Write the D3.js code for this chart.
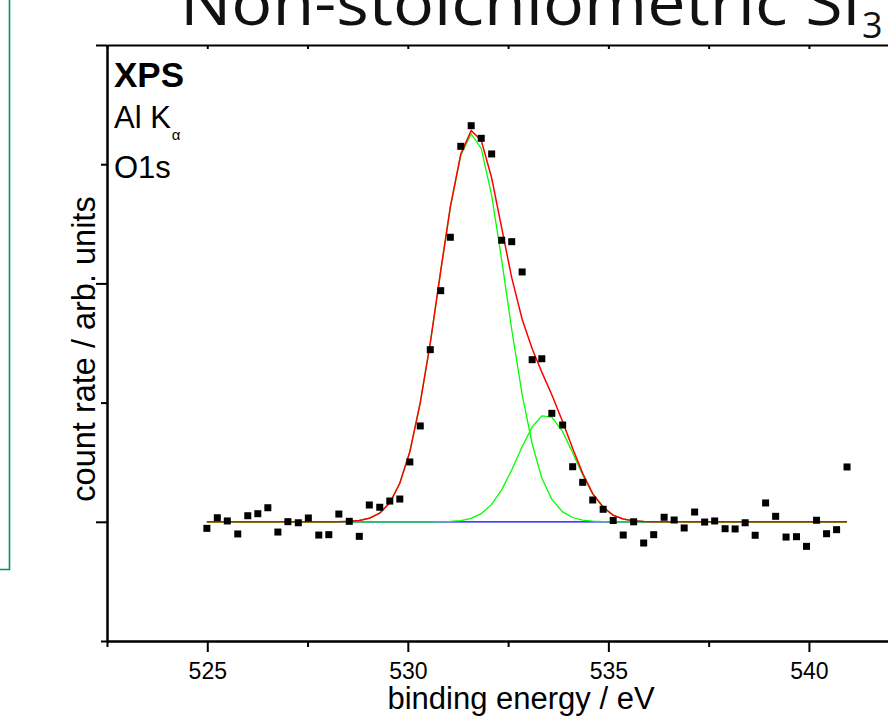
<!DOCTYPE html>
<html><head><meta charset="utf-8">
<script src="https://cdn.jsdelivr.net/npm/d3@7"></script>
<style>body{margin:0;background:#fff;overflow:hidden} svg{display:block}</style>
</head><body>
<svg id="c" width="888" height="716"></svg>
<script>
// ---- data ----
const energies = [524.99,525.25,525.50,525.76,526.01,526.26,526.51,526.76,527.01,527.27,527.52,527.78,528.03,528.28,528.54,528.79,529.04,529.30,529.55,529.80,530.05,530.31,530.56,530.82,531.06,531.32,531.58,531.83,532.09,532.34,532.59,532.85,533.10,533.34,533.59,533.86,534.11,534.36,534.61,534.87,535.12,535.37,535.63,535.88,536.13,536.39,536.64,536.89,537.15,537.40,537.65,537.91,538.16,538.41,538.66,538.92,539.17,539.43,539.69,539.94,540.19,540.44,540.69,540.95];
const counts = [-0.055,0.034,0.007,-0.102,0.051,0.068,0.118,-0.086,0.001,-0.008,0.032,-0.111,-0.108,0.065,0.004,-0.122,0.141,0.122,0.174,0.191,0.502,0.804,1.444,1.939,2.387,3.150,3.323,3.217,3.086,2.362,2.350,2.096,1.360,1.368,0.910,0.812,0.462,0.331,0.183,0.105,0.011,-0.111,0.000,-0.178,-0.108,0.038,0.015,-0.052,0.082,-0.002,0.007,-0.058,-0.060,-0.008,-0.113,0.158,0.046,-0.128,-0.125,-0.206,0.013,-0.100,-0.066,0.460];
const peak1 = [0,0,0,0,0,0,0,0,0,0,0,0,0.000,0.001,0.004,0.011,0.030,0.073,0.159,0.323,0.587,0.999,1.500,2.104,2.639,3.075,3.254,3.132,2.738,2.197,1.613,1.069,0.655,0.367,0.188,0.083,0.036,0.014,0.005,0.002,0,0,0,0,0,0,0,0,0,0,0,0,0,0,0,0,0,0,0,0,0,0,0,0];
const peak2 = [0,0,0,0,0,0,0,0,0,0,0,0,0,0,0,0,0,0,0,0,0,0,0.000,0.001,0.003,0.010,0.028,0.068,0.146,0.268,0.435,0.630,0.796,0.889,0.878,0.756,0.579,0.392,0.231,0.122,0.055,0.023,0.008,0.003,0.001,0,0,0,0,0,0,0,0,0,0,0,0,0,0,0,0,0,0,0];
const baselineLevel = 0;
const xMajorTicks = [525,530,535,540];
const xMinorTicks = [522.5,527.5,532.5,537.5,542.5];
const xTopTicks = [522.5,525,527.5,530,532.5,535,537.5,540,542.5];
const yMajorTicks = [0,2,4];
const yMinorTicks = [-1,1,3];
const xDomain = [522.5,543];
const yDomain = [-1,4];
const labels = {title:"Non-stoichiometric Si", titleSub:"3", xTitle:"binding energy / eV", yTitle:"count rate / arb. units",
  line1:"XPS", line2:"Al K", line2Sub:"\u03B1", line3:"O1s"};

// ---- drawing ----
const svg = d3.select("#c");
const L = 107, T = 45, B = 641;
const x = d3.scaleLinear().domain(xDomain).range([L, L + (xDomain[1]-xDomain[0])*40.11]);
const y = d3.scaleLinear().domain(yDomain).range([B, T]);
const R = x.range()[1];
const FONT = "'Liberation Sans', Arial, sans-serif";

// green slide frame on the left
svg.append("path").attr("d","M9.5,0 V569.5 H0").attr("fill","none")
  .attr("stroke","#00935a").attr("stroke-width",1.6);

// title (partly cut off by the top edge, as in the reference)
svg.append("text").attr("x",180).attr("y",25)
  .attr("font-family","'Open Sans', 'DejaVu Sans', sans-serif").attr("font-size",62)
  .attr("fill","#111").attr("textLength",680).attr("lengthAdjust","spacingAndGlyphs")
  .text(labels.title);
svg.append("text").attr("x",862).attr("y",38)
  .attr("font-family","'Open Sans', 'DejaVu Sans', sans-serif").attr("font-size",36)
  .attr("fill","#111").text(labels.titleSub);

// axes
function styleAxis(g){
  g.selectAll("path.domain").attr("stroke","#000").attr("stroke-width",2);
  g.selectAll(".tick line").attr("stroke","#000").attr("stroke-width",2);
  g.selectAll("text").attr("font-family",FONT).attr("font-size",23).attr("fill","#000");
}
svg.append("g").attr("transform",`translate(0,${B})`)
  .call(d3.axisBottom(x).tickValues(xMinorTicks).tickSize(6).tickSizeOuter(0).tickFormat(""))
  .call(styleAxis);
svg.append("g").attr("transform",`translate(0,${B})`)
  .call(d3.axisBottom(x).tickValues(xMajorTicks).tickSize(11).tickSizeOuter(0).tickPadding(11).tickFormat(d3.format("d")))
  .call(styleAxis);
svg.append("g").attr("transform",`translate(0,${T})`)
  .call(d3.axisTop(x).tickValues(xTopTicks).tickSize(-4).tickSizeOuter(0).tickFormat(""))
  .call(styleAxis);
svg.append("g").attr("transform",`translate(${L},0)`)
  .call(d3.axisLeft(y).tickValues(yMinorTicks).tickSize(6).tickSizeOuter(0).tickFormat(""))
  .call(styleAxis);
svg.append("g").attr("transform",`translate(${L},0)`)
  .call(d3.axisLeft(y).tickValues(yMajorTicks).tickSize(11).tickSizeOuter(0).tickFormat(""))
  .call(styleAxis);
svg.append("g").attr("transform",`translate(${R},0)`)
  .call(d3.axisRight(y).tickValues(yMajorTicks.concat(yMinorTicks)).tickSize(-4).tickSizeOuter(0).tickFormat(""))
  .call(styleAxis);

// axis titles
svg.append("text").attr("x",521).attr("y",709).attr("text-anchor","middle")
  .attr("font-family",FONT).attr("font-size",31).text(labels.xTitle);
svg.append("text").attr("transform","translate(95,349) rotate(-90)").attr("text-anchor","middle")
  .attr("font-family",FONT).attr("font-size",32.5).text(labels.yTitle);

// annotation
svg.append("text").attr("x",114).attr("y",87).attr("font-family",FONT).attr("font-size",35)
  .attr("font-weight","bold").text(labels.line1);
const t2 = svg.append("text").attr("x",114).attr("y",128).attr("font-family",FONT).attr("font-size",31);
t2.append("tspan").text(labels.line2);
t2.append("tspan").attr("dx",1).attr("dy",12).attr("font-size",15).text(labels.line2Sub);
svg.append("text").attr("x",114).attr("y",178).attr("font-family",FONT).attr("font-size",31).text(labels.line3);

// fit curves
const idx = d3.range(energies.length);
const line = vals => d3.line().x(i => x(energies[i])).y(i => y(vals(i)))(idx);
svg.append("path").attr("d", line(i => baselineLevel)).attr("fill","none").attr("stroke","#0000ff").attr("stroke-width",1.3);
svg.append("path").attr("d", line(i => baselineLevel + peak1[i])).attr("fill","none").attr("stroke","#00ff00").attr("stroke-width",1.3);
svg.append("path").attr("d", line(i => baselineLevel + peak2[i])).attr("fill","none").attr("stroke","#00ff00").attr("stroke-width",1.3);
svg.append("path").attr("d", line(i => baselineLevel + peak1[i] + peak2[i])).attr("fill","none").attr("stroke","#ff0000").attr("stroke-width",1.5);

// measured points
const S = 7;
svg.append("g").selectAll("rect").data(idx).join("rect")
  .attr("x", i => x(energies[i]) - S/2).attr("y", i => y(counts[i]) - S/2)
  .attr("width", S).attr("height", S).attr("fill","#000");
</script>
</body></html>
